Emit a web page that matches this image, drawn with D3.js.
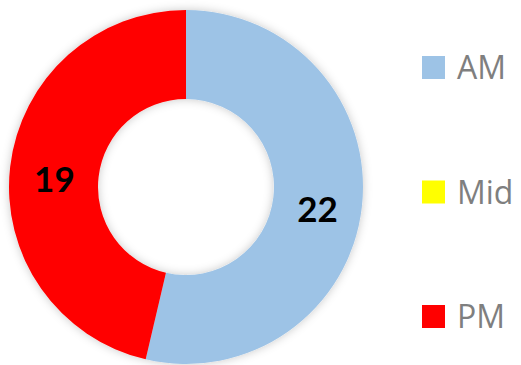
<!DOCTYPE html>
<html>
<head>
<meta charset="utf-8">
<script src="https://cdn.jsdelivr.net/npm/d3@7"></script>
<style>
  html, body { margin: 0; padding: 0; background: #ffffff; }
  svg { display: block; }
</style>
</head>
<body>
<svg id="chart" width="521" height="365"></svg>
<script>
// Session counts by time of day
const categories = ["AM", "Mid", "PM"];
const values = [22, 0, 19];
const colors = ["#9dc3e6", "#ffff00", "#ff0000"];

const width = 521, height = 365;
const cx = 186, cy = 187;
const outerR = 177, innerR = 88;

const svg = d3.select("#chart");

// soft grey halo around the ring
const defs = svg.append("defs");
const f = defs.append("filter").attr("id", "halo")
  .attr("x", "-20%").attr("y", "-20%").attr("width", "140%").attr("height", "140%");
f.append("feGaussianBlur").attr("in", "SourceAlpha").attr("stdDeviation", 5).attr("result", "b");
f.append("feFlood").attr("flood-color", "#000").attr("flood-opacity", 0.22).attr("result", "c");
f.append("feComposite").attr("in", "c").attr("in2", "b").attr("operator", "in").attr("result", "s");
const m = f.append("feMerge");
m.append("feMergeNode").attr("in", "s");
m.append("feMergeNode").attr("in", "SourceGraphic");

const data = categories.map((c, i) => ({ cat: c, value: values[i], color: colors[i] }));

const pie = d3.pie().value(d => d.value).sort(null);
const arc = d3.arc().innerRadius(innerR).outerRadius(outerR);
const arcs = pie(data);

const g = svg.append("g").attr("transform", `translate(${cx},${cy})`);

g.append("g").attr("filter", "url(#halo)")
  .selectAll("path")
  .data(arcs.filter(a => a.data.value > 0))
  .join("path")
  .attr("d", arc)
  .attr("fill", a => a.data.color);

// value labels near each slice centroid, sitting slightly low
g.selectAll("text.val")
  .data(arcs.filter(a => a.data.value > 0))
  .join("text")
  .attr("class", "val")
  .attr("x", a => arc.centroid(a)[0])
  .attr("y", a => arc.centroid(a)[1] + 6)
  .attr("text-anchor", "middle")
  .attr("dominant-baseline", "central")
  .attr("font-family", "Lato, 'Open Sans', sans-serif")
  .attr("font-weight", "bold")
  .attr("font-size", 35)
  .attr("fill", "#000")
  .text(a => a.data.value);

// legend
const legendY = d3.scalePoint().domain(categories).range([67.5, 316.5]);
const legend = svg.append("g").selectAll("g")
  .data(data)
  .join("g")
  .attr("transform", d => `translate(422,${legendY(d.cat)})`);

legend.append("rect")
  .attr("x", 0).attr("y", -11.5)
  .attr("width", 23).attr("height", 23)
  .attr("fill", d => d.color);

legend.append("text")
  .attr("x", 35)
  .attr("y", 11.5)
  .attr("font-family", "'Open Sans', Lato, sans-serif")
  .attr("font-size", 32)
  .attr("fill", "#7f7f7f")
  .text(d => d.cat);
</script>
</body>
</html>
